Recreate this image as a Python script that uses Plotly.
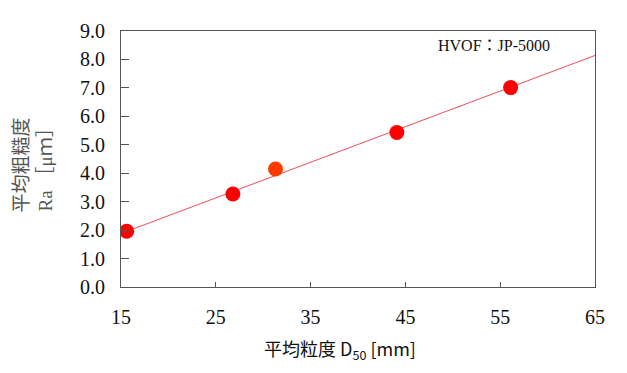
import plotly.graph_objects as go

# data
d50 = [15.6, 26.8, 31.3, 44.1, 56.1]
ra = [1.96, 3.27, 4.15, 5.43, 7.01]
point_colors = ["#FF0000", "#FF0000", "#FF3A00", "#FF0000", "#FF0000"]
trend_x = [15.4, 65.0]
trend_y = [1.93, 8.14]
x_ticks = [15, 25, 35, 45, 55, 65]
y_ticks = [0, 1, 2, 3, 4, 5, 6, 7, 8, 9]
y_tick_labels = ["0.0", "1.0", "2.0", "3.0", "4.0", "5.0", "6.0", "7.0", "8.0", "9.0"]

serif = "Liberation Serif, Noto Sans CJK JP, serif"
cjk = "Noto Sans CJK JP, sans-serif"

fig = go.Figure()
fig.add_trace(go.Scatter(x=trend_x, y=trend_y, mode="lines",
                         line=dict(color="#F04F5A", width=1), showlegend=False, hoverinfo="skip"))
fig.add_trace(go.Scatter(x=d50, y=ra, mode="markers",
                         marker=dict(color=point_colors, size=15, line=dict(width=0)),
                         showlegend=False))

fig.update_layout(
    width=619, height=357,
    margin=dict(l=113, r=32, t=12, b=78),
    paper_bgcolor="white", plot_bgcolor="white",
    xaxis=dict(range=[15, 65], tickvals=x_ticks, ticks="inside", ticklen=5,
               tickcolor="#555555", showline=True, linecolor="#555555", linewidth=1,
               mirror=True, showgrid=False, zeroline=False,
               tickfont=dict(family=serif, size=20, color="#111111"),
               ticklabelstandoff=12),
    yaxis=dict(range=[0, 9], tickvals=y_ticks, ticktext=y_tick_labels, ticks="inside", ticklen=8,
               tickcolor="#555555", showline=True, linecolor="#555555", linewidth=1,
               mirror=True, showgrid=False, zeroline=False,
               tickfont=dict(family=serif, size=20, color="#111111"),
               ticklabelstandoff=11),
    annotations=[
        dict(text="HVOF：JP-5000", xref="paper", yref="paper", x=0.787, y=0.945,
             xanchor="center", yanchor="middle",
             showarrow=False, font=dict(family=serif, size=16, color="#111111")),
        dict(text="平均粗糙度<br>Ra ［μｍ］", xref="paper", yref="paper", x=0, y=0.475,
             xshift=-112, textangle=-90, showarrow=False,
             font=dict(family=serif, size=19, color="#555555")),
        dict(text="平均粒度 D<sub>50</sub> [mm]", xref="paper", yref="paper", x=0.462, y=0,
             yshift=-62, showarrow=False, xanchor="center", yanchor="middle",
             font=dict(family=cjk, size=18, color="#111111")),
    ],
)

fig.write_html("out.html")
